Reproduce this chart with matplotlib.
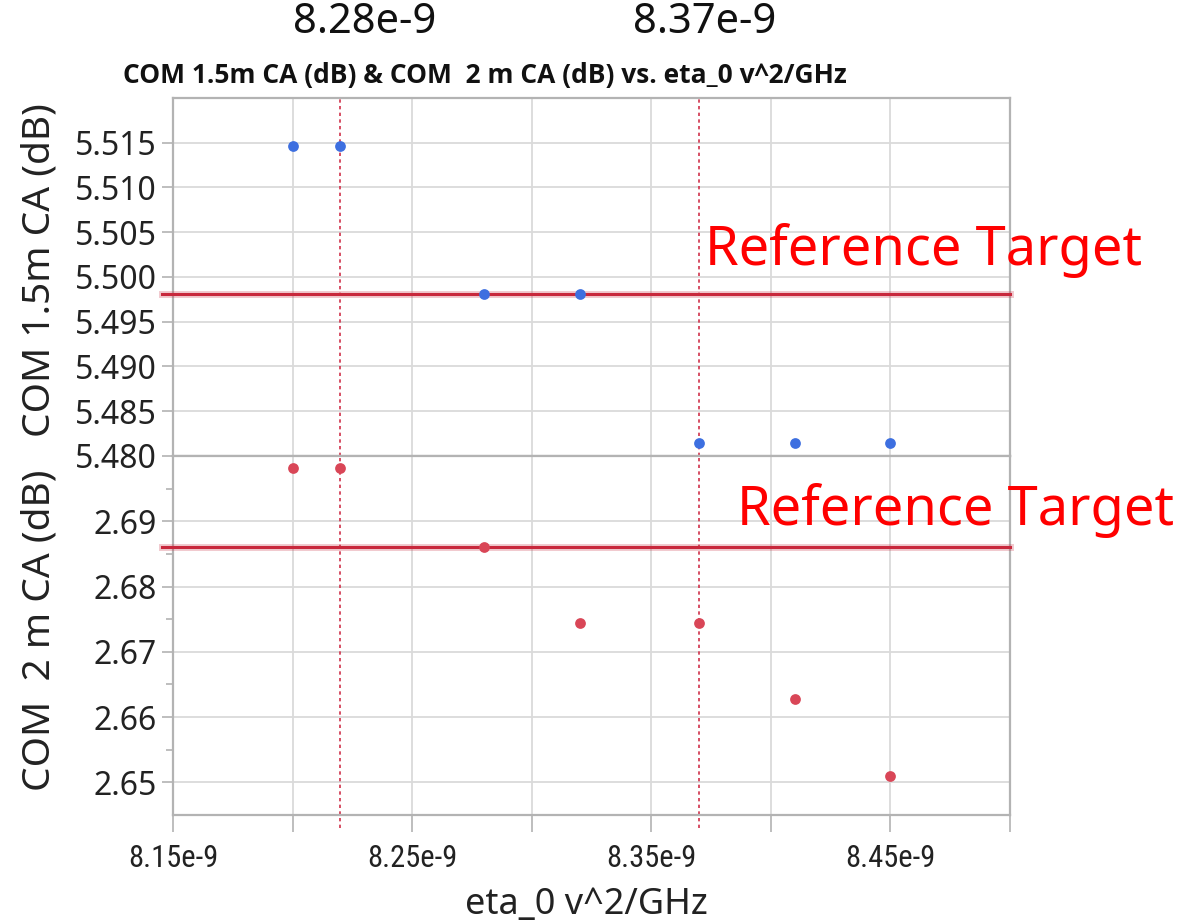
import numpy as np
import matplotlib
matplotlib.use('Agg')
import matplotlib.pyplot as plt
from matplotlib import font_manager as fm


# ---- fonts: pick what is installed ----
def pick(names, weight='normal'):
    for n in names:
        try:
            f = fm.findfont(fm.FontProperties(family=n, weight=weight), fallback_to_default=False)
            if weight == 'bold' and 'bold' not in f.lower():
                continue
            return n
        except ValueError:
            pass
    return 'DejaVu Sans'


narrow = pick(['Liberation Sans Narrow', 'Roboto Condensed', 'Noto Sans'])
body = pick(['Noto Sans', 'Open Sans', 'DejaVu Sans'])
bold = pick(['Noto Sans', 'Open Sans', 'Roboto', 'Lato', 'DejaVu Sans'], weight='bold')

# ---- data ----
eta = [8.20e-9, 8.22e-9, 8.28e-9, 8.32e-9, 8.37e-9, 8.41e-9, 8.45e-9]
com_15m = [5.5146, 5.5146, 5.4981, 5.4981, 5.4815, 5.4815, 5.4815]
com_2m = [2.6981, 2.6981, 2.6861, 2.6744, 2.6744, 2.6627, 2.6510]

target_15m = 5.4981
target_2m = 2.6861

mark_x = [8.22e-9, 8.37e-9]
mark_text = ['8.28e-9', '8.37e-9']

xticks = [8.15e-9, 8.20e-9, 8.25e-9, 8.30e-9, 8.35e-9, 8.40e-9, 8.45e-9, 8.50e-9]
xtick_labels = ['8.15e-9', '', '8.25e-9', '', '8.35e-9', '', '8.45e-9', '']
yticks_top = [5.480, 5.485, 5.490, 5.495, 5.500, 5.505, 5.510, 5.515]
yticks_bot = [2.65, 2.66, 2.67, 2.68, 2.69]
yminor_bot = [2.655, 2.665, 2.675, 2.685, 2.695]

blue = '#3d6fe0'
red = '#d94657'
line_red = '#c8283c'
frame = '#b3b3b3'
grid_c = '#dadada'

fig = plt.figure(figsize=(12.01, 9.24), dpi=100)
L, W = 173 / 1201, (1010 - 173) / 1201
ax1 = fig.add_axes([L, 1 - 456 / 924, W, (456 - 98) / 924])
ax2 = fig.add_axes([L, 1 - 815 / 924, W, (815 - 456) / 924])

for ax in (ax1, ax2):
    ax.set_xlim(8.15e-9, 8.50e-9)
    ax.set_xticks(xticks)
    ax.grid(True, color=grid_c, lw=1.3)
    ax.set_axisbelow(True)
    for s in ax.spines.values():
        s.set_color(frame)
        s.set_linewidth(1.6)
    ax.tick_params(direction='out', length=8, width=1.2, color=frame,
                   labelsize=23, labelcolor='#222222')

for x in mark_x:
    ax1.axvline(x, color='#d0314a', lw=1.2, ls=(0, (2, 2)), zorder=2)
    ax2.axvline(x, ymin=-0.035, clip_on=False, color='#d0314a', lw=1.2, ls=(0, (2, 2)), zorder=2)

ax1.set_ylim(5.480, 5.520)
ax1.set_yticks(yticks_top)
ax1.set_yticklabels(['%.3f' % v for v in yticks_top], family=body)
ax1.tick_params(axis='x', length=0, labelbottom=False)
ax1.scatter(eta, com_15m, s=60, color=blue, zorder=4, linewidths=0)
ax1.axhline(target_15m, xmin=-0.013, clip_on=False, color=line_red, lw=5, alpha=0.25, zorder=3)
ax1.axhline(target_15m, xmin=-0.013, clip_on=False, color=line_red, lw=2.2, zorder=3)

ax2.set_ylim(2.645, 2.700)
ax2.set_yticks(yticks_bot)
ax2.set_yticks(yminor_bot, minor=True)
ax2.set_yticklabels(['%.2f' % v for v in yticks_bot], family=body)
ax2.tick_params(axis='y', which='minor', length=5, width=1.2, color=frame)
ax2.set_xticklabels(xtick_labels, family=narrow, fontsize=22)
ax2.tick_params(axis='x', length=12, pad=9)
ax2.scatter(eta, com_2m, s=60, color=red, zorder=4, linewidths=0)
ax2.axhline(target_2m, xmin=-0.013, clip_on=False, color=line_red, lw=5, alpha=0.25, zorder=3)
ax2.axhline(target_2m, xmin=-0.013, clip_on=False, color=line_red, lw=2.2, zorder=3)

# axis labels
fig.text(40 / 1201, 1 - 270 / 924, 'COM 1.5m CA (dB)', rotation=90, ha='center', va='center',
         family=body, fontsize=28, color='#222222')
fig.text(40 / 1201, 1 - 630 / 924, 'COM  2 m CA (dB)', rotation=90, ha='center', va='center',
         family=body, fontsize=28, color='#222222')
fig.text(586 / 1201, 1 - 905 / 924, 'eta_0 v^2/GHz', ha='center', va='center',
         family=body, fontsize=26, color='#222222')

# title
fig.text(123 / 1201, 1 - 75 / 924, 'COM 1.5m CA (dB) & COM  2 m CA (dB) vs. eta_0 v^2/GHz',
         ha='left', va='center', family=bold, fontsize=19, fontweight='bold', color='#111111')

# annotations
fig.text(365 / 1201, 1 - 22 / 924, mark_text[0], ha='center', va='center',
         family=body, fontsize=30, color='#111111')
fig.text(705 / 1201, 1 - 22 / 924, mark_text[1], ha='center', va='center',
         family=body, fontsize=30, color='#111111')
fig.text(705 / 1201, 1 - 250 / 924, 'Reference Target', ha='left', va='center',
         family=body, fontsize=39, color='#ff0000')
fig.text(737 / 1201, 1 - 510 / 924, 'Reference Target', ha='left', va='center',
         family=body, fontsize=39, color='#ff0000')

fig.savefig('out.png', dpi=100)
